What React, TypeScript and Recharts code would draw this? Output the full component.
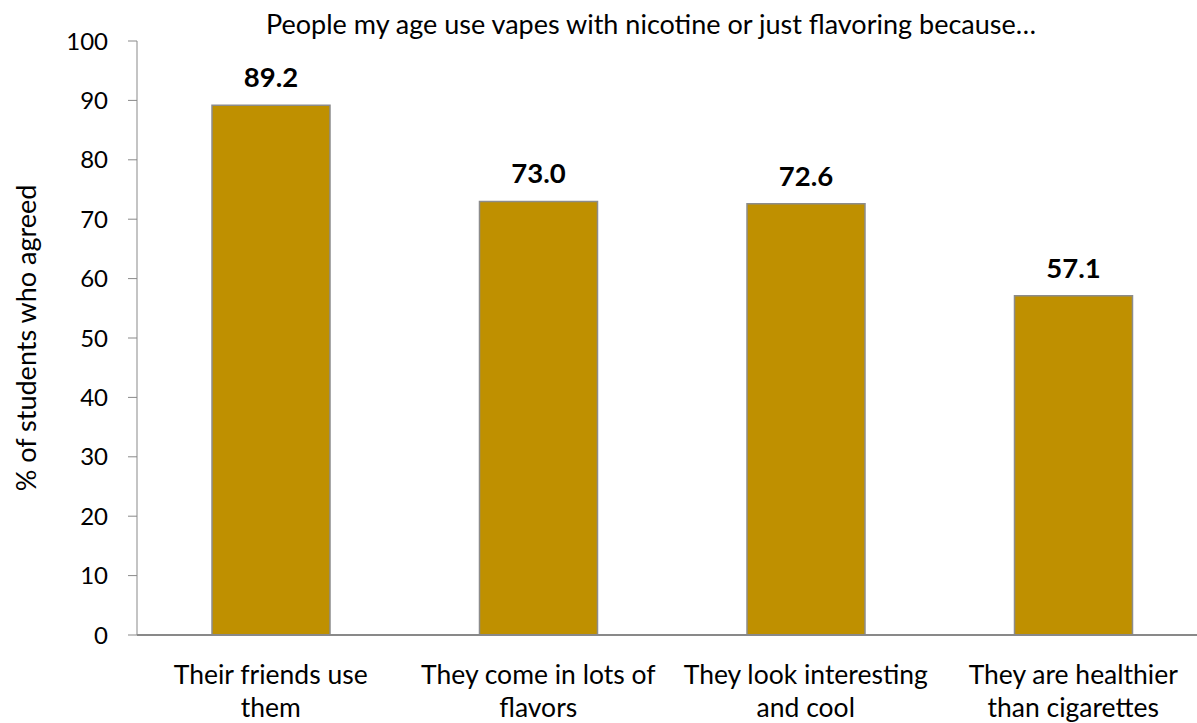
import { BarChart, Bar, XAxis, YAxis, LabelList } from 'recharts';

const reasons = [
  'Their friends use\nthem',
  'They come in lots of\nflavors',
  'They look interesting\nand cool',
  'They are healthier\nthan cigarettes',
];
const agreedPct = [89.2, 73.0, 72.6, 57.1];
const yTicks = [0, 10, 20, 30, 40, 50, 60, 70, 80, 90, 100];

const chartTitle = 'People my age use vapes with nicotine or just flavoring because…';
const yAxisTitle = '% of students who agreed';

const data = reasons.map((reason, i) => ({ reason, pct: agreedPct[i] }));

const FONT = 'Lato, "Open Sans", sans-serif';
const GOLD = '#BF9000';
const AXIS_GREY = '#898989';

// two-line category labels, split on the newline in each name
function ReasonTick({ x, y, payload }: any) {
  const lines = String(payload.value).split('\n');
  return (
    <text x={x} y={y} textAnchor="middle" fill="#000" fontSize={26.5} fontFamily={FONT}>
      {lines.map((line, i) => (
        <tspan key={i} x={x} dy={i === 0 ? 49 : 33}>
          {line}
        </tspan>
      ))}
    </text>
  );
}

export default function App() {
  return (
    <div
      style={{
        position: 'absolute',
        left: 0,
        top: 0,
        width: 1197,
        height: 723,
        overflow: 'hidden',
        background: '#fff',
        fontFamily: FONT,
      }}
    >
      <div
        style={{
          position: 'absolute',
          left: 651,
          top: 8,
          transform: 'translateX(-50%)',
          whiteSpace: 'nowrap',
          fontSize: 27,
          lineHeight: '32px',
          color: '#000',
        }}
      >
        {chartTitle}
      </div>
      <BarChart
        width={1197}
        height={723}
        data={data}
        margin={{ top: 41, right: -10, bottom: 0, left: 0 }}
      >
        <XAxis
          dataKey="reason"
          height={88}
          axisLine={{ stroke: AXIS_GREY, strokeWidth: 2 }}
          tickLine={false}
          tickSize={0}
          tickMargin={0}
          interval={0}
          tick={<ReasonTick />}
        />
        <YAxis
          width={137}
          domain={[0, 100]}
          ticks={yTicks}
          interval={0}
          axisLine={{ stroke: AXIS_GREY, strokeWidth: 1 }}
          tickLine={{ stroke: AXIS_GREY, strokeWidth: 1 }}
          tickSize={9}
          tickMargin={20}
          tick={{ fill: '#000', fontSize: 24, fontFamily: FONT }}
          label={{
            value: yAxisTitle,
            angle: -90,
            position: 'insideLeft',
            offset: 26,
            style: { textAnchor: 'middle', fill: '#000', fontSize: 27, fontFamily: FONT },
          }}
        />
        <Bar
          dataKey="pct"
          fill={GOLD}
          stroke="#8C8C8C"
          strokeWidth={1.5}
          barSize={118}
          isAnimationActive={false}
        >
          <LabelList
            dataKey="pct"
            position="top"
            offset={18}
            formatter={(v: any) => Number(v).toFixed(1)}
            style={{ fill: '#000', fontSize: 27.5, fontWeight: 700, fontFamily: FONT }}
          />
        </Bar>
      </BarChart>
    </div>
  );
}
